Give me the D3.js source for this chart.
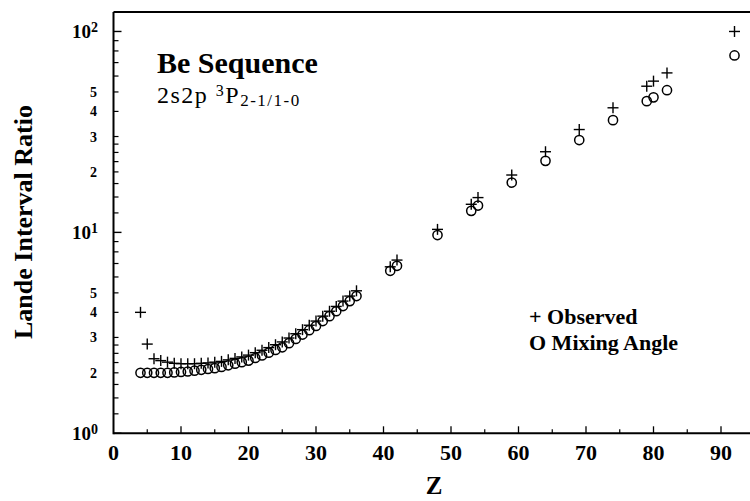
<!DOCTYPE html>
<html><head><meta charset="utf-8">
<script src="https://cdn.jsdelivr.net/npm/d3@7"></script>
<style>body{margin:0;background:#fff}svg{display:block}text{font-family:"Liberation Serif","Times New Roman",serif;fill:#000}</style>
</head><body>
<svg id="c" width="750" height="501"></svg>
<script>
const zValues = [4,5,6,7,8,9,10,11,12,13,14,15,16,17,18,19,20,21,22,23,24,25,26,27,28,29,30,31,32,33,34,35,36,41,42,48,53,54,59,64,69,74,79,80,82,92];
const observed = [4.0,2.78,2.35,2.3,2.26,2.23,2.22,2.22,2.22,2.23,2.24,2.26,2.28,2.32,2.36,2.4,2.45,2.52,2.59,2.67,2.76,2.85,2.98,3.13,3.28,3.45,3.62,3.83,4.05,4.28,4.55,4.82,5.12,6.74,7.28,10.35,13.8,14.9,19.3,25.2,32.5,41.7,53.4,56.6,62.2,100];
const mixingAngle = [2.0,2.0,2.0,2.0,2.0,2.01,2.02,2.03,2.05,2.07,2.09,2.11,2.14,2.18,2.22,2.26,2.3,2.37,2.44,2.52,2.6,2.68,2.81,2.95,3.1,3.26,3.42,3.62,3.83,4.05,4.3,4.55,4.82,6.44,6.82,9.7,12.8,13.6,17.7,22.7,28.8,36.2,45,47,51,76];
const xMajorTicks = [10,20,30,40,50,60,70,80,90];
const xMinorTicks = [5,15,25,35,45,55,65,75,85,95];
const xTickLabels = ["0","10","20","30","40","50","60","70","80","90"];
const yMajorTicks = [1,10,100];
const yMajorExp = ["0","1","2"];
const yMinorMantissa = [1.25,1.5,1.75,2,2.25,2.5,2.75,3,4,5,6,7,8,9];
const yMinorLabels = [2,3,4,5];

const svg = d3.select("#c");
const x = d3.scaleLinear().domain([0,95]).range([113.5,754.75]);
const y = d3.scaleLog().domain([1,125]).range([433.3,12]);

const ax = svg.append("g").attr("stroke","#000");
ax.append("line").attr("x1",x(0)).attr("x2",750).attr("y1",y(1)).attr("y2",y(1)).attr("stroke-width",2);
ax.append("line").attr("x1",x(0)).attr("x2",x(0)).attr("y1",y(1)+1).attr("y2",y(125)).attr("stroke-width",2);
ax.append("line").attr("x1",x(0)).attr("x2",750).attr("y1",y(125)).attr("y2",y(125)).attr("stroke-width",2);

ax.selectAll(".xM").data(xMajorTicks).join("line").attr("x1",d=>x(d)).attr("x2",d=>x(d)).attr("y1",y(1)).attr("y2",y(1)-7).attr("stroke-width",1.3);
ax.selectAll(".xm").data(xMinorTicks).join("line").attr("x1",d=>x(d)).attr("x2",d=>x(d)).attr("y1",y(1)).attr("y2",y(1)-4).attr("stroke-width",1.2);
svg.selectAll(".xl").data(xTickLabels).join("text").attr("x",(d)=>x(+d)).attr("y",460).attr("text-anchor","middle")
  .attr("font-size",22).attr("font-weight","bold").text(d=>d);

const minorVals = [];
[1,10].forEach(dec=>yMinorMantissa.forEach(m=>minorVals.push(m*dec)));
ax.selectAll(".ym").data(minorVals).join("line").attr("x1",x(0)).attr("x2",x(0)+5).attr("y1",d=>y(d)).attr("y2",d=>y(d)).attr("stroke-width",1.2);
ax.selectAll(".yM").data(yMajorTicks).join("line").attr("x1",x(0)).attr("x2",x(0)+8).attr("y1",d=>y(d)).attr("y2",d=>y(d)).attr("stroke-width",1.4);

yMajorTicks.forEach((v,i)=>{
  const t = svg.append("text").attr("x",98).attr("y",y(v)+7).attr("text-anchor","end").attr("font-size",19).attr("font-weight","bold");
  t.append("tspan").text("10");
  t.append("tspan").attr("dy",-6).attr("font-size",14).text(yMajorExp[i]);
});
[1,10].forEach(dec=>yMinorLabels.forEach(m=>{
  svg.append("text").attr("x",97).attr("y",y(m*dec)+5).attr("text-anchor","end").attr("font-size",14).attr("font-weight","bold").text(m);
}));

const pts = zValues.map((z,i)=>({z,o:observed[i],m:mixingAngle[i]}));
svg.append("g").selectAll("circle").data(pts).join("circle")
  .attr("cx",d=>x(d.z)).attr("cy",d=>y(d.m)).attr("r",4.6)
  .attr("fill","none").attr("stroke","#000").attr("stroke-width",1.5);
const pl = svg.append("g").attr("stroke","#000").attr("stroke-width",1.4);
pts.forEach(d=>{
  const cx=x(d.z), cy=y(d.o), h=5.5;
  pl.append("line").attr("x1",cx-h).attr("x2",cx+h).attr("y1",cy).attr("y2",cy);
  pl.append("line").attr("x1",cx).attr("x2",cx).attr("y1",cy-h).attr("y2",cy+h);
});

svg.append("text").attr("x",157).attr("y",73).attr("font-size",30).attr("font-weight","bold").text("Be Sequence");
const st = svg.append("text").attr("x",157).attr("y",103).attr("font-size",24).attr("letter-spacing",1.5);
st.append("tspan").text("2s2p ");
st.append("tspan").attr("dy",-7).attr("font-size",16).text("3");
st.append("tspan").attr("dy",7).text("P");
st.append("tspan").attr("dy",3).attr("font-size",17).text("2-1/1-0");

svg.append("text").attr("x",529).attr("y",324).attr("font-size",22).attr("font-weight","bold").text("+ Observed");
svg.append("text").attr("x",529).attr("y",350).attr("font-size",22).attr("font-weight","bold").text("O Mixing Angle");

svg.append("text").attr("x",434).attr("y",494).attr("text-anchor","middle").attr("font-size",25).attr("font-weight","bold").text("Z");
svg.append("text").attr("transform","translate(32,222) rotate(-90)").attr("text-anchor","middle").attr("font-size",26).attr("font-weight","bold").text("Lande Interval Ratio");
</script>
</body></html>
